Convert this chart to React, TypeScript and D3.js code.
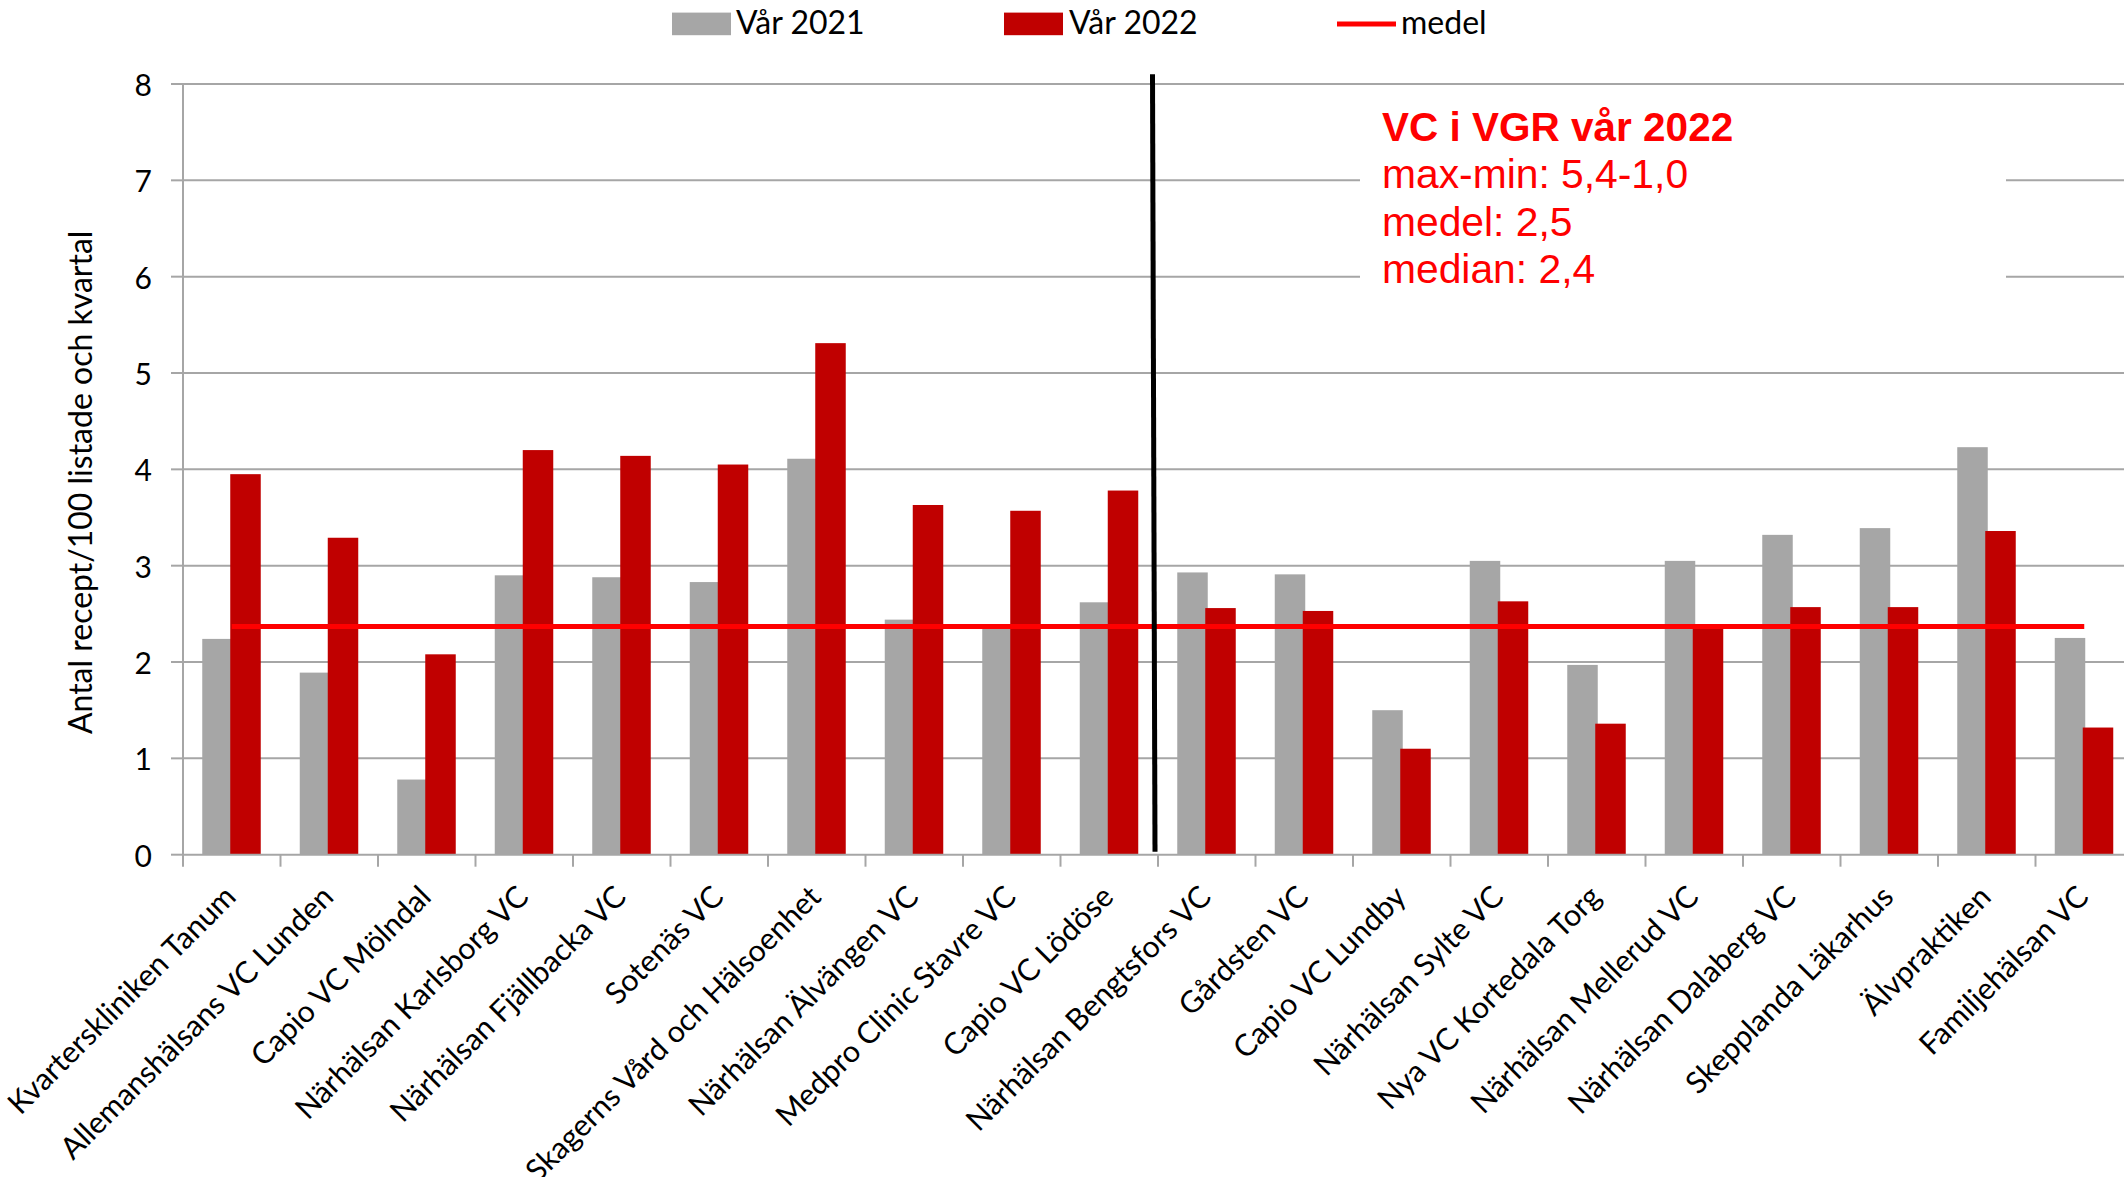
import * as d3 from 'd3';
import { useEffect, useRef } from 'react';

const categories = [
  'Kvarterskliniken Tanum',
  'Allemanshälsans VC Lunden',
  'Capio VC Mölndal',
  'Närhälsan Karlsborg VC',
  'Närhälsan Fjällbacka VC',
  'Sotenäs VC',
  'Skagerns Vård och Hälsoenhet',
  'Närhälsan Älvängen VC',
  'Medpro Clinic Stavre VC',
  'Capio VC Lödöse',
  'Närhälsan Bengtsfors VC',
  'Gårdsten VC',
  'Capio VC Lundby',
  'Närhälsan Sylte VC',
  'Nya VC Kortedala Torg',
  'Närhälsan Mellerud VC',
  'Närhälsan Dalaberg VC',
  'Skepplanda Läkarhus',
  'Älvpraktiken',
  'Familjehälsan VC',
];

const var2021 = [2.24, 1.89, 0.78, 2.90, 2.88, 2.83, 4.11, 2.44, 2.37, 2.62, 2.93, 2.91, 1.50, 3.05, 1.97, 3.05, 3.32, 3.39, 4.23, 2.25];
const var2022 = [3.95, 3.29, 2.08, 4.20, 4.14, 4.05, 5.31, 3.63, 3.57, 3.78, 2.56, 2.53, 1.10, 2.63, 1.36, 2.37, 2.57, 2.57, 3.36, 1.32];
const medel = 2.37;

const yTicks = [0, 1, 2, 3, 4, 5, 6, 7, 8];
const legendLabels = ['Vår 2021', 'Vår 2022', 'medel'];
const noteTitle = 'VC i VGR vår 2022';
const noteLines = ['max-min: 5,4-1,0', 'medel: 2,5', 'median: 2,4'];
const yTitle = 'Antal recept/100 listade och kvartal';

const GRAY = '#a6a6a6';
const RED = '#c00000';
const LINE_RED = '#ff0000';
const GRID = '#a6a6a6';
const CAL = 'Lato, "Open Sans", sans-serif';
const ARIAL = '"Liberation Sans", Arial, sans-serif';

export default function App() {
  const ref = useRef<SVGSVGElement>(null);

  useEffect(() => {
    const svg = d3.select(ref.current);
    svg.selectAll('*').remove();

    const left = 183, right = 2133, top = 84, bottom = 854.7;

    const x = d3.scaleBand().domain(categories).range([left, right]);
    const y = d3.scaleLinear().domain([0, 8]).range([bottom, top]);
    const cx = (d: string) => (x(d) as number) + x.bandwidth() / 2;
    const barW = 30.5;

    svg.append('rect').attr('width', 2124).attr('height', 1177).attr('fill', '#fff');

    // gridlines
    svg.append('g').selectAll('line')
      .data(yTicks.filter(t => t > 0))
      .enter().append('line')
      .attr('x1', left).attr('x2', right)
      .attr('y1', d => y(d)).attr('y2', d => y(d))
      .attr('stroke', GRID).attr('stroke-width', 2);

    // note box covering the grid
    svg.append('rect')
      .attr('x', 1360).attr('y', 100).attr('width', 646).attr('height', 200)
      .attr('fill', '#fff');

    // y axis
    const yAxis = svg.append('g');
    yAxis.append('line')
      .attr('x1', left).attr('x2', left).attr('y1', y(0)).attr('y2', y(8))
      .attr('stroke', GRID).attr('stroke-width', 2);
    yAxis.selectAll('line.tick')
      .data(yTicks).enter().append('line').attr('class', 'tick')
      .attr('x1', left - 12).attr('x2', left)
      .attr('y1', d => y(d)).attr('y2', d => y(d))
      .attr('stroke', GRID).attr('stroke-width', 2);
    yAxis.selectAll('text')
      .data(yTicks).enter().append('text')
      .attr('x', left - 31).attr('y', d => y(d))
      .attr('text-anchor', 'end').attr('dominant-baseline', 'central')
      .attr('font-family', CAL).attr('font-size', 30).attr('fill', '#000')
      .text(d => String(d));

    // bars
    svg.append('g').selectAll('rect')
      .data(categories).enter().append('rect')
      .attr('x', d => cx(d) - barW + 1)
      .attr('width', barW)
      .attr('y', (d, i) => y(var2021[i]))
      .attr('height', (d, i) => y(0) - y(var2021[i]))
      .attr('fill', GRAY);
    svg.append('g').selectAll('rect')
      .data(categories).enter().append('rect')
      .attr('x', d => cx(d) - 1.5)
      .attr('width', barW)
      .attr('y', (d, i) => y(var2022[i]))
      .attr('height', (d, i) => y(0) - y(var2022[i]))
      .attr('fill', RED);

    // x axis
    const xAxis = svg.append('g');
    xAxis.append('line')
      .attr('x1', left).attr('x2', right).attr('y1', y(0)).attr('y2', y(0))
      .attr('stroke', GRID).attr('stroke-width', 2);
    xAxis.selectAll('line.tick')
      .data(categories).enter().append('line').attr('class', 'tick')
      .attr('x1', d => x(d) as number).attr('x2', d => x(d) as number)
      .attr('y1', y(0)).attr('y2', y(0) + 12)
      .attr('stroke', GRID).attr('stroke-width', 2);
    xAxis.selectAll('text')
      .data(categories).enter().append('text')
      .attr('transform', d => `translate(${cx(d) + 6},${y(0) + 44}) rotate(-45)`)
      .attr('text-anchor', 'end')
      .attr('font-family', CAL).attr('font-size', 30.3).attr('fill', '#000')
      .text(d => d);

    // medel line
    const line = d3.line<string>().x(d => cx(d)).y(() => y(medel));
    svg.append('path')
      .attr('d', line([categories[0], categories[categories.length - 1]]))
      .attr('stroke', LINE_RED).attr('stroke-width', 5).attr('fill', 'none');

    // divider between the two groups
    const divX = (x(categories[10]) as number) - 4;
    svg.append('line')
      .attr('x1', divX - 1.5).attr('x2', divX + 1)
      .attr('y1', y(8.1)).attr('y2', y(0.03))
      .attr('stroke', '#000').attr('stroke-width', 5);

    // y title
    svg.append('text')
      .attr('transform', `translate(92,${(y(0) + y(8)) / 2 + 13}) rotate(-90)`)
      .attr('text-anchor', 'middle')
      .attr('font-family', CAL).attr('font-size', 32).attr('fill', '#000')
      .text(yTitle);

    // note
    const note = svg.append('g').attr('fill', LINE_RED).attr('font-family', ARIAL);
    note.append('text').attr('x', 1382).attr('y', 140.7)
      .attr('font-size', 40.5).attr('font-weight', 'bold').text(noteTitle);
    note.selectAll('text.l').data(noteLines).enter().append('text').attr('class', 'l')
      .attr('x', 1382).attr('y', (d, i) => 188.3 + i * 47.2)
      .attr('font-size', 40.8).text(d => d);

    // legend
    const lg = svg.append('g').attr('font-family', CAL).attr('font-size', 32).attr('fill', '#000');
    lg.append('rect').attr('x', 672).attr('y', 12.6).attr('width', 59).attr('height', 22.6).attr('fill', GRAY);
    lg.append('text').attr('x', 736).attr('y', 34).text(legendLabels[0]);
    lg.append('rect').attr('x', 1004).attr('y', 12.6).attr('width', 59).attr('height', 22.6).attr('fill', RED);
    lg.append('text').attr('x', 1069).attr('y', 34).text(legendLabels[1]);
    lg.append('line').attr('x1', 1337).attr('x2', 1396).attr('y1', 24).attr('y2', 24)
      .attr('stroke', LINE_RED).attr('stroke-width', 5);
    lg.append('text').attr('x', 1401).attr('y', 34).text(legendLabels[2]);
  }, []);

  return (
    <svg ref={ref} width={2124} height={1177}
      style={{ position: 'absolute', left: 0, top: 0, display: 'block' }} />
  );
}
